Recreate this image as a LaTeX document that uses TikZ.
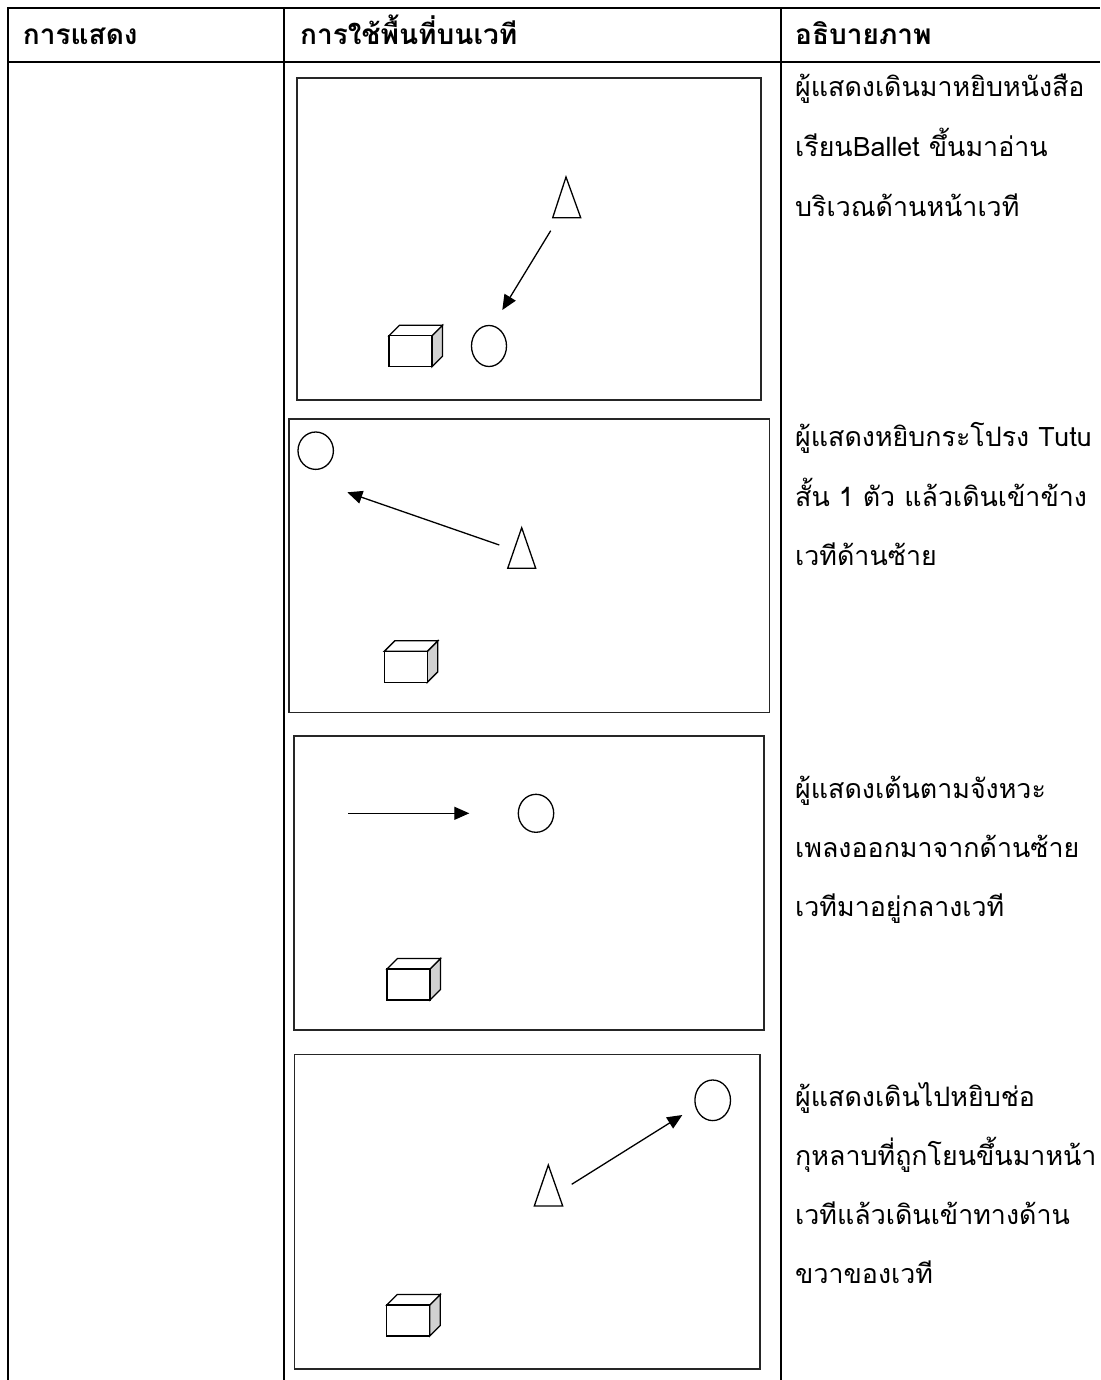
\documentclass[tikz,border=0pt]{standalone}
\usepackage{fontspec}
\newfontfamily\thaifont[Script=Thai]{Loma}
\usetikzlibrary{arrows.meta}
\begin{document}
\begin{tikzpicture}[x=1pt,y=-1pt,
  tableline/.style={line width=2pt,black},
  stagebox/.style={draw=black!85,line width=1.6pt},
  prop/.style={draw=black,line width=1.3pt},
  mover/.style={draw=black,line width=1.3pt,-{Triangle[length=15pt,width=13pt]}},
  headtxt/.style={anchor=base west,inner sep=0pt,font=\thaifont\bfseries\fontsize{28}{32}\selectfont},
  bodytxt/.style={anchor=base west,inner sep=0pt,font=\thaifont\fontsize{26.8}{30}\selectfont}]
\useasboundingbox (0,0) rectangle (1100,1380);
\fill[white] (0,0) rectangle (1100,1380);
% table lines
\draw[tableline] (7.7,1380) -- (7.7,8.3) -- (1100,8.3);
\draw[tableline] (7.7,61.7) -- (1100,61.7);
\draw[tableline] (284.3,8.3) -- (284.3,1380);
\draw[tableline] (781,8.3) -- (781,1380);
% headers
\node[headtxt] (h1) at (22.7,45) {การแสดง};
\node[headtxt] (h2) at (300,45) {การใช้พื้นที่บนเวที};
\node[headtxt] (h3) at (795,45) {อธิบายภาพ};
% descriptions
\node[bodytxt] (d1a) at (795,96.7) {ผู้แสดงเดินมาหยิบหนังสือ};
\node[bodytxt] (d1b) at (795,157) {เรียนBallet ขึ้นมาอ่าน};
\node[bodytxt] (d1c) at (795,216.7) {บริเวณด้านหน้าเวที};
\node[bodytxt] (d2a) at (795,446.7) {ผู้แสดงหยิบกระโปรง Tutu};
\node[bodytxt] (d2b) at (795,506) {สั้น 1 ตัว แล้วเดินเข้าข้าง};
\node[bodytxt] (d2c) at (795,565) {เวทีด้านซ้าย};
\node[bodytxt] (d3a) at (795,798) {ผู้แสดงเต้นตามจังหวะ};
\node[bodytxt] (d3b) at (795,857) {เพลงออกมาจากด้านซ้าย};
\node[bodytxt] (d3c) at (795,916) {เวทีมาอยู่กลางเวที};
\node[bodytxt] (d4a) at (795,1106) {ผู้แสดงเดินไปหยิบช่อ};
\node[bodytxt] (d4b) at (795,1165) {กุหลาบที่ถูกโยนขึ้นมาหน้า};
\node[bodytxt] (d4c) at (795,1224) {เวทีแล้วเดินเข้าทางด้าน};
\node[bodytxt] (d4d) at (795,1283) {ขวาของเวที};
% stage boxes
\draw[stagebox] (296.7,78.3) rectangle (761,400);
\draw[stagebox] (289,419) rectangle (769.3,712.3);
\draw[stagebox] (293.7,735.7) rectangle (764,1030);
\draw[stagebox] (294.3,1054.3) rectangle (760,1369);
% cubes
\foreach \cx/\cy in {389/366.7, 384.3/682.3, 387/1000, 386.7/1336}{
  \filldraw[prop,fill=black!18] (\cx+43,\cy) -- (\cx+53.5,\cy-10.5) -- (\cx+53.5,\cy-41.5) -- (\cx+43,\cy-31) -- cycle;
  \filldraw[prop,fill=white] (\cx,\cy-31) -- (\cx+10.5,\cy-41.5) -- (\cx+53.5,\cy-41.5) -- (\cx+43,\cy-31) -- cycle;
  \filldraw[prop,fill=white] (\cx,\cy) rectangle (\cx+43,\cy-31);
}
% triangles
\draw[prop] (566,177) -- (580.7,217.7) -- (552.7,217.7) -- cycle;
\draw[prop] (521.7,527.7) -- (535.7,568.3) -- (507.7,568.3) -- cycle;
\draw[prop] (548.3,1165) -- (562.7,1206) -- (534.3,1206) -- cycle;
% circles
\draw[prop] (489,346) ellipse [x radius=17.5,y radius=20.5];
\draw[prop] (315.7,450.7) ellipse [x radius=17.7,y radius=18.7];
\draw[prop] (536,813.3) ellipse [x radius=17.7,y radius=19];
\draw[prop] (712.7,1100.3) ellipse [x radius=17.8,y radius=20.3];
% arrows
\coordinate (a1s) at (550.7,230.7); \coordinate (a1e) at (502.3,310);
\coordinate (a2s) at (499.3,545);   \coordinate (a2e) at (347.3,492.3);
\coordinate (a3s) at (348.3,813.3); \coordinate (a3e) at (469.3,813.3);
\coordinate (a4s) at (571.7,1184.3); \coordinate (a4e) at (682.3,1115);
\draw[mover] (a1s) -- (a1e);
\draw[mover] (a2s) -- (a2e);
\draw[mover] (a3s) -- (a3e);
\draw[mover] (a4s) -- (a4e);
\end{tikzpicture}
\end{document}
